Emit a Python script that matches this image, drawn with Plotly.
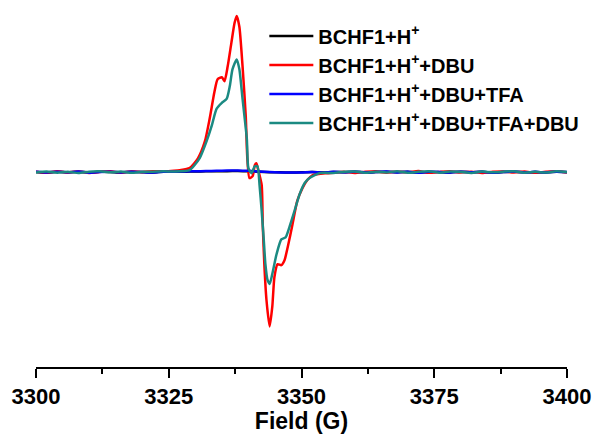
import plotly.graph_objects as go

# ---- EPR spectra (field in G, first-derivative intensity in a.u.) ----
# shared baseline sampling outside the resonance
base_left_field = [3300, 3302, 3304, 3306, 3308, 3310, 3312, 3314, 3316, 3318, 3320, 3322, 3324, 3326]
base_right_field = [3356, 3358, 3360, 3362, 3364, 3366, 3368, 3370, 3372, 3374, 3376, 3378,
                    3380, 3382, 3384, 3386, 3388, 3390, 3392, 3394, 3396, 3398, 3400]

# BCHF1+H+ and BCHF1+H+ +DBU+TFA: flat (EPR silent) traces
flat_field = [3300 + 2 * i for i in range(51)]
black_int = [0.2, -0.5, 0.4, -0.1, 0.5, -0.4, 0.3, 0.2, -0.3, 0.4, 0.0, -0.3, 0.3, 0.4, 0.5,
             0.6, 0.8, 0.9, 1.0, 1.1, 0.9, 0.4, 0.0, -0.2, -0.3, -0.2, 0.1, -0.4, 0.2, -0.1,
             0.4, -0.3, 0.1, 0.5, -0.2, 0.3, -0.5, 0.2, 0.0, -0.3, 0.4, -0.1, 0.3, -0.4, 0.1,
             0.5, -0.2, 0.2, -0.3, 0.4, 0.0]
blue_int = [0.3, -0.4, 0.5, -0.2, 0.6, -0.5, 0.2, 0.4, -0.3, 0.5, 0.1, -0.4, 0.4, 0.5, 0.7,
            0.9, 1.1, 1.4, 1.6, 1.7, 1.3, 0.6, 0.1, -0.3, -0.4, -0.3, 0.2, -0.5, 0.3, -0.2,
            0.5, -0.4, 0.2, 0.6, -0.3, 0.4, -0.6, 0.3, 0.1, -0.4, 0.5, -0.2, 0.4, -0.5, 0.2,
            0.6, -0.3, 0.3, -0.4, 0.5, 0.1]

# BCHF1+H+ +DBU
red_left = [0.5, -0.6, 0.8, -0.3, 0.6, -0.8, 0.2, 0.9, -0.4, 0.7, 0.1, 1.0, 0.8, 1.4]
red_core_field = [3327.1, 3328.9, 3330.5, 3331.8, 3332.7, 3333.6, 3334.2, 3335.0, 3335.5,
                  3336.1, 3336.8, 3337.4, 3337.8, 3338.3, 3338.9, 3339.5, 3339.8, 3340.2,
                  3340.8, 3341.2, 3341.5, 3341.9, 3342.5, 3342.7, 3343.0, 3343.4, 3344.0,
                  3344.5, 3344.9, 3345.5, 3346.2, 3346.8, 3347.4, 3348.3, 3349.2, 3350.2,
                  3351.1, 3352.1, 3354.7]
red_core = [2, 4, 14, 31, 54, 81, 94, 96, 92,
            107, 131, 151, 158, 147, 107, 57, 14, -6,
            -4, 7, 9, 1, -13, -53, -93, -129, -156,
            -136, -106, -93, -94, -89, -76, -53, -29, -16,
            -8, -3, -1]
red_right = [-0.6, 0.4, -0.8, 0.3, 0.9, -0.5, 0.6, -0.2, 1.1, -0.7, 0.2, 0.8, -0.4, 0.5,
             -0.9, 0.3, 0.7, -0.3, 0.6, -0.6, 0.4, 0.9, -0.2]

# BCHF1+H+ +DBU+TFA+DBU
teal_left = [-0.3, 0.7, -0.5, 0.4, -0.9, 0.5, 0.8, -0.2, 0.6, -0.6, 0.3, 0.5, 0.9, 0.6]
teal_core_field = [3328.9, 3330.8, 3332.1, 3333.1, 3334.0, 3335.0, 3335.9, 3336.5, 3337.0,
                   3337.8, 3338.3, 3338.9, 3339.7, 3340.0, 3340.6, 3341.2, 3341.7, 3342.1,
                   3342.5, 3342.9, 3343.2, 3343.6, 3344.0, 3344.5, 3345.3, 3346.2, 3347.0,
                   3347.7, 3348.7, 3349.6, 3350.6, 3351.5, 3353.4]
teal_core = [2, 14, 31, 47, 64, 70, 74, 87, 104,
             114, 104, 74, 34, 4, -1, 6, 6, -13,
             -39, -69, -93, -109, -113, -103, -83, -68, -66,
             -56, -39, -23, -11, -6, -1]
teal_right = [-0.8, 0.3, 0.7, -0.6, 0.5, -0.3, 0.9, -0.7, 0.4, 1.0, -0.5, 0.6, 0.2, -0.8,
              0.7, -0.2, 0.5, 0.9, -0.6, 0.3, -0.4, 0.8, 0.1]

names = ["BCHF1+H<sup>+</sup>",
         "BCHF1+H<sup>+</sup>+DBU",
         "BCHF1+H<sup>+</sup>+DBU+TFA",
         "BCHF1+H<sup>+</sup>+DBU+TFA+DBU"]
colors = ["#000000", "#ff0000", "#0000ff", "#1b8a82"]

x_tick_vals = [3300, 3325, 3350, 3375, 3400]
x_tick_text = ["3300", "3325", "3350", "3375", "3400"]

series = [
    (flat_field, black_int),
    (base_left_field + red_core_field + base_right_field, red_left + red_core + red_right),
    (flat_field, blue_int),
    (base_left_field + teal_core_field + base_right_field, teal_left + teal_core + teal_right),
]

FONT = "Liberation Sans, Arial, Helvetica, sans-serif"

fig = go.Figure()
for i, ((fx, fy), name, color) in enumerate(zip(series, names, colors)):
    fig.add_trace(go.Scatter(
        x=fx, y=fy, mode="lines", name=name, legendgroup=f"g{i}",
        line=dict(color=color, width=2.5, shape="spline", smoothing=0.6),
    ))

fig.update_layout(
    width=596, height=434,
    margin=dict(l=36, r=28, t=5, b=63),
    paper_bgcolor="white", plot_bgcolor="white",
    font=dict(family=FONT, color="black"),
    showlegend=True,
    legend=dict(
        x=0.43, y=0.968, xanchor="left", yanchor="top",
        bgcolor="rgba(0,0,0,0)", borderwidth=0,
        font=dict(family=FONT, size=20, color="black", weight="bold"),
        tracegroupgap=0, itemwidth=44,
    ),
    xaxis=dict(
        range=[3300, 3400], showgrid=False, zeroline=False,
        showline=True, linecolor="black", linewidth=2,
        ticks="outside", ticklen=9, tickwidth=2, tickcolor="black",
        tickvals=x_tick_vals, ticktext=x_tick_text,
        tickfont=dict(family=FONT, size=22, color="black", weight="bold"),
        minor=dict(ticks="outside", ticklen=5, tickwidth=2, tickcolor="black",
                   tickvals=[3312.5, 3337.5, 3362.5, 3387.5]),
        title=dict(text="Field (G)", standoff=3,
                   font=dict(family=FONT, size=23, color="black", weight="bold")),
    ),
    yaxis=dict(range=[-197, 169], visible=False, showgrid=False, zeroline=False),
)

fig.write_html("out.html")
